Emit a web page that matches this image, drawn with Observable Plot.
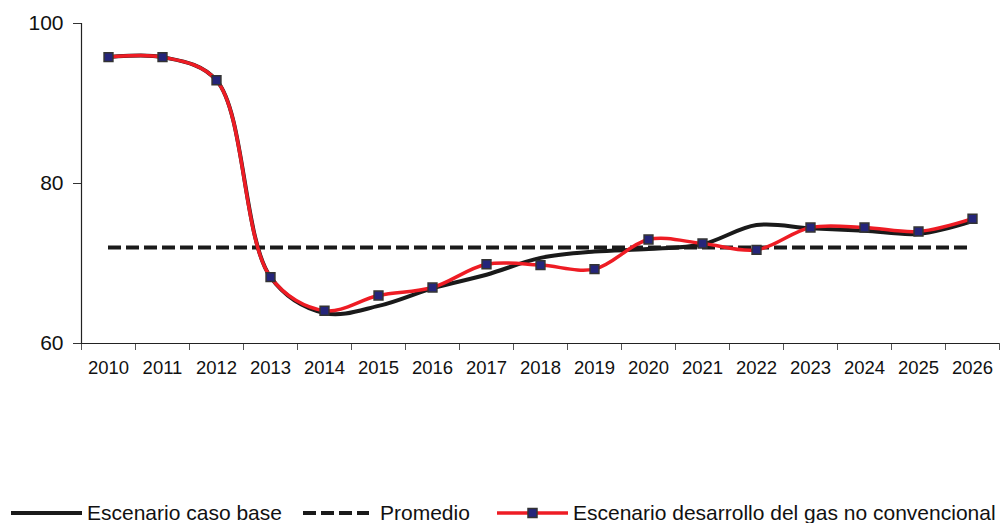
<!DOCTYPE html>
<html>
<head>
<meta charset="utf-8">
<script src="https://cdn.jsdelivr.net/npm/d3@7"></script>
<script src="https://cdn.jsdelivr.net/npm/@observablehq/plot@0.6"></script>
<style>
  html, body { margin: 0; padding: 0; background: #fff; }
  #wrap { position: relative; width: 1002px; height: 523px; font-family: "Liberation Sans", Arial, sans-serif; }
  .lg { position: absolute; font-size: 21px; line-height: 24px; color: #111; white-space: nowrap; }
  .sw { position: absolute; }
</style>
</head>
<body>
<div id="wrap"></div>
<script>
const years = [2010, 2011, 2012, 2013, 2014, 2015, 2016, 2017, 2018, 2019, 2020, 2021, 2022, 2023, 2024, 2025, 2026];
const baseCase = [95.8, 95.8, 92.9, 68.3, 63.8, 64.7, 66.9, 68.6, 70.7, 71.5, 71.8, 72.4, 74.8, 74.4, 74.1, 73.7, 75.3];
const gasScenario = [95.8, 95.8, 92.9, 68.3, 64.1, 66.0, 67.0, 69.9, 69.8, 69.3, 73.0, 72.5, 71.7, 74.5, 74.5, 74.0, 75.6];
const average = 72.0;
const yTicks = [60, 80, 100];
const seriesNames = ["Escenario caso base", "Promedio", "Escenario desarrollo del gas no convencional"];

const data = years.map((yr, i) => ({year: yr, base: baseCase[i], gas: gasScenario[i]}));
const boundaries = years.map(y => y - 0.5).concat([years[years.length - 1] + 0.5]);

const chart = Plot.plot({
  width: 1002,
  height: 480,
  marginLeft: 81,
  marginRight: 3,
  marginTop: 23,
  marginBottom: 137,
  style: {fontFamily: '"Liberation Sans", Arial, sans-serif', background: "#fff", color: "#111"},
  x: {type: "linear", domain: [boundaries[0], boundaries[boundaries.length - 1]]},
  y: {domain: [60, 100]},
  marks: [
    Plot.axisY({ticks: yTicks, tickSize: 8, tickPadding: 10, fontSize: 21, label: null, stroke: "#333", tickFormat: d => String(d)}),
    Plot.axisX({ticks: boundaries, tickSize: 7, tickFormat: () => "", label: null, stroke: "#555"}),
    Plot.axisX({ticks: years, tickSize: 0, tickPadding: 17, tickFormat: d => String(d), fontSize: 18.5, label: null}),
    Plot.ruleY([60], {stroke: "#222", strokeWidth: 1.2}),
    Plot.ruleX([boundaries[0]], {stroke: "#222", strokeWidth: 1.2}),
    Plot.ruleY([average], {x1: years[0], x2: years[years.length - 1], stroke: "#1a1a1a", strokeWidth: 4, strokeDasharray: "13,5"}),
    Plot.line(data, {x: "year", y: "base", curve: "catmull-rom", stroke: "#1a1a1a", strokeWidth: 4}),
    Plot.line(data, {x: "year", y: "gas", curve: "catmull-rom", stroke: "#ee1c24", strokeWidth: 3.5}),
    Plot.dot(data, {x: "year", y: "gas", symbol: "square", r: 5, fill: "#25257a", stroke: "#333", strokeWidth: 1.5})
  ]
});

const wrap = document.getElementById("wrap");
chart.style.position = "absolute";
chart.style.left = "0px";
chart.style.top = "0px";
wrap.appendChild(chart);

function swatch(left, inner) {
  const d = document.createElement("div");
  d.className = "sw";
  d.style.left = left + "px";
  d.style.top = "503px";
  d.innerHTML = `<svg width="80" height="20" xmlns="http://www.w3.org/2000/svg">${inner}</svg>`;
  wrap.appendChild(d);
}
function label(left, text) {
  const d = document.createElement("div");
  d.className = "lg";
  d.style.left = left + "px";
  d.style.top = "501px";
  d.textContent = text;
  wrap.appendChild(d);
}
swatch(11, `<line x1="0" y1="10" x2="71" y2="10" stroke="#1a1a1a" stroke-width="4"/>`);
label(87, seriesNames[0]);
swatch(303, `<line x1="0" y1="10" x2="66" y2="10" stroke="#1a1a1a" stroke-width="4" stroke-dasharray="13,5"/>`);
label(380, seriesNames[1]);
swatch(497, `<line x1="0" y1="10" x2="71" y2="10" stroke="#ee1c24" stroke-width="3.5"/><rect x="31" y="5.5" width="9" height="9" fill="#25257a" stroke="#333" stroke-width="1.5"/>`);
label(573, seriesNames[2]);
</script>
</body>
</html>
